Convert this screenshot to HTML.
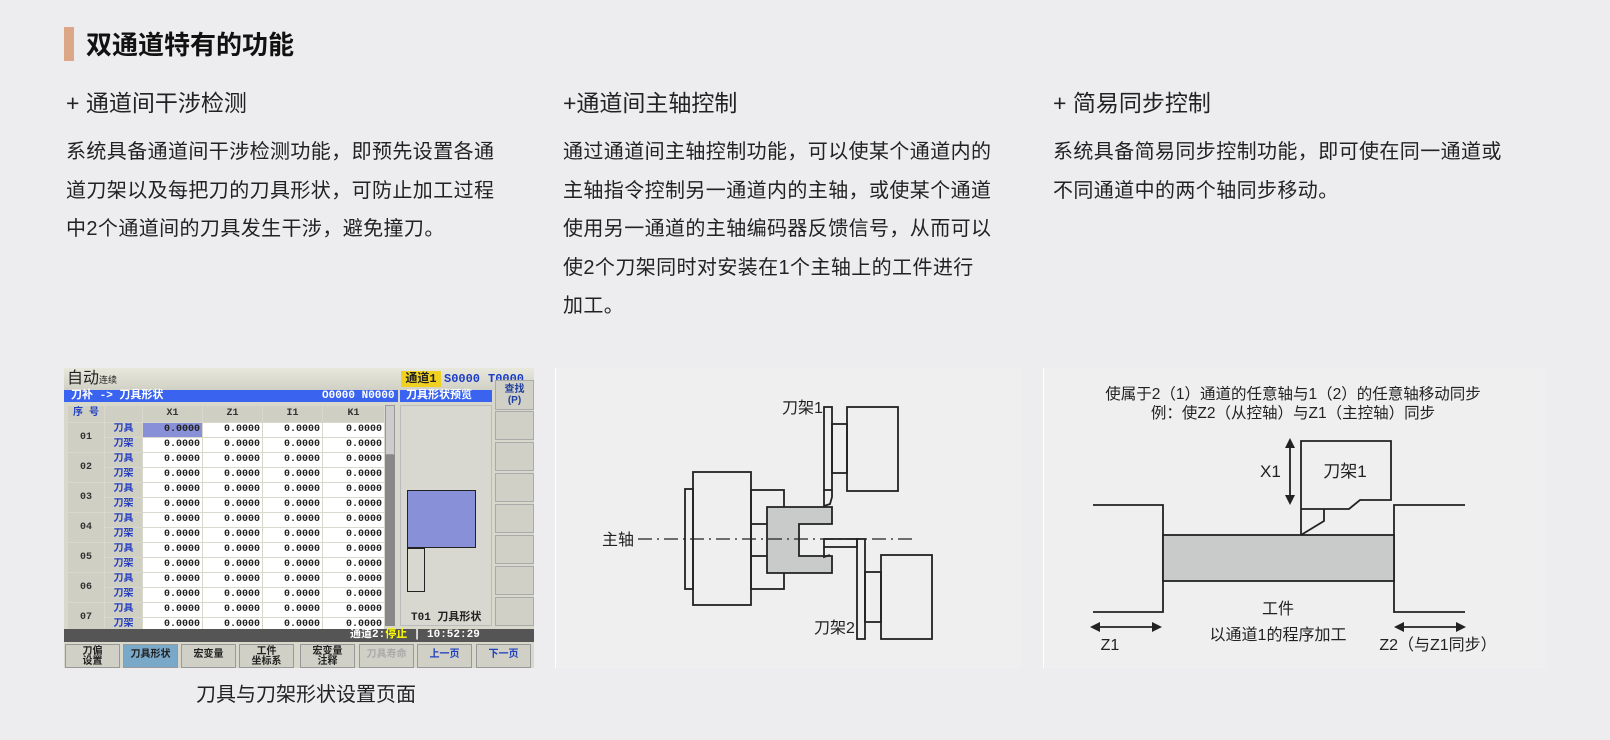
<!DOCTYPE html>
<html><head><meta charset="utf-8">
<style>
*{margin:0;padding:0;box-sizing:border-box}
body{width:1610px;height:740px;background:#ededef;font-family:"Liberation Sans","Noto Sans CJK SC",sans-serif;color:#222;position:relative;overflow:hidden}
.a{position:absolute;white-space:nowrap}
.bar{left:64px;top:27px;width:10px;height:34px;background:#dba787}
.title{left:86px;top:28px;font-size:26px;font-weight:bold;line-height:34px;color:#111}
.sub{top:88px;font-size:23px;line-height:30px;color:#222}
.body{top:133px;font-size:20px;letter-spacing:0.4px;line-height:38.5px;color:#222;white-space:normal}
.scr{left:64px;top:368px;width:470px;height:300px;background:#d8d8cc;font-family:"Liberation Mono","Noto Sans CJK SC",monospace;overflow:hidden}
.scr .a{font-size:11px;font-weight:bold}
table{border-collapse:collapse;table-layout:fixed;position:absolute;left:3px;top:37px;font-family:"Liberation Mono","Noto Sans CJK SC",monospace;font-size:10px;font-weight:bold}
tr{height:15px}
td{height:15px;line-height:12px;padding:0 2px;border:1px solid #d8d8cc;overflow:hidden}
td.v{background:#fff;text-align:right;width:60px;color:#222}
td.l{background:#cfcfc4;color:#2840c0;text-align:center;width:38px}
td.n{background:#cfcfc4;text-align:center;width:37px;color:#333}
th{height:16px;line-height:14px;background:#cfcfc4;font-weight:bold;color:#333;border:1px solid #d8d8cc}
.btn{position:absolute;top:276px;height:24px;width:55px;background:#d0d0c6;border:1px solid #999;font-size:10px;font-weight:bold;text-align:center;line-height:10px;padding-top:2px;font-family:"Liberation Sans","Noto Sans CJK SC",sans-serif}
.btn.s{line-height:20px;padding-top:0}
.rb{position:absolute;left:431px;width:39px;height:29px;background:#d0d0c6;border:1px solid #aaa}
.panel{position:absolute;top:368px;height:300px;background:#efeff0;border-left:1px solid #fff}
</style></head><body>
<div class="a bar"></div>
<div class="a title">双通道特有的功能</div>
<div class="a sub" style="left:66px">+ 通道间干涉检测</div>
<div class="a sub" style="left:563px">+通道间主轴控制</div>
<div class="a sub" style="left:1053px">+ 简易同步控制</div>
<div class="a body" style="left:66px;width:440px">系统具备通道间干涉检测功能，即预先设置各通道刀架以及每把刀的刀具形状，可防止加工过程中2个通道间的刀具发生干涉，避免撞刀。</div>
<div class="a body" style="left:563px;width:430px">通过通道间主轴控制功能，可以使某个通道内的主轴指令控制另一通道内的主轴，或使某个通道使用另一通道的主轴编码器反馈信号，从而可以使2个刀架同时对安装在1个主轴上的工件进行<br>加工。</div>
<div class="a body" style="left:1053px;width:455px">系统具备简易同步控制功能，即可使在同一通道或不同通道中的两个轴同步移动。</div>

<div class="a scr">
 <div class="a" style="left:0;top:0;width:470px;height:22px;background:linear-gradient(#e8e8dc,#d0d0c4)"></div>
 <div class="a" style="left:3px;top:1px;font-size:16px;font-weight:normal;line-height:20px">自动<span style="font-size:9px">连续</span></div>
 <div class="a" style="left:337px;top:3px;width:40px;height:16px;background:#f0d020;font-size:12px;line-height:16px;text-align:center">通道1</div>
 <div class="a" style="left:380px;top:3px;font-size:12px;line-height:16px;color:#1a3cc8">S0000</div>
 <div class="a" style="left:424px;top:3px;font-size:12px;line-height:16px;color:#1a3cc8">T0000</div>
 <div class="a" style="left:0;top:22px;width:334px;height:12px;background:#3a64f0;color:#fff;font-size:11px;line-height:12px;padding-left:7px">刀补 -&gt; 刀具形状<span style="position:absolute;left:258px">O0000 N0000</span></div>
 <div class="a" style="left:336px;top:22px;width:92px;height:12px;background:#3a64f0;color:#fff;font-size:11px;line-height:12px;padding-left:6px">刀具形状预览</div>
 <div class="rb" style="top:12px;height:30px;font-size:10px;line-height:11px;padding-top:3px;text-align:center;color:#2040a0;font-weight:bold;font-family:'Liberation Sans','Noto Sans CJK SC',sans-serif">查找<br>(P)</div>
 <div class="rb" style="top:43px"></div><div class="rb" style="top:74px"></div><div class="rb" style="top:105px"></div><div class="rb" style="top:136px"></div><div class="rb" style="top:167px"></div><div class="rb" style="top:198px"></div><div class="rb" style="top:229px"></div>
 <table>
 <colgroup><col style="width:37px"><col style="width:38px"><col style="width:60px"><col style="width:60px"><col style="width:60px"><col style="width:62px"></colgroup>
 <tr style="height:17px"><th style="color:#2040c0">序 号</th><th></th><th>X1</th><th>Z1</th><th>I1</th><th>K1</th></tr>
 <tr><td class="n" rowspan="2">01</td><td class="l">刀具</td><td class="v" style="background:#8890d8">0.0000</td><td class="v">0.0000</td><td class="v">0.0000</td><td class="v">0.0000</td></tr>
 <tr><td class="l">刀架</td><td class="v">0.0000</td><td class="v">0.0000</td><td class="v">0.0000</td><td class="v">0.0000</td></tr>
 <tr><td class="n" rowspan="2">02</td><td class="l">刀具</td><td class="v">0.0000</td><td class="v">0.0000</td><td class="v">0.0000</td><td class="v">0.0000</td></tr>
 <tr><td class="l">刀架</td><td class="v">0.0000</td><td class="v">0.0000</td><td class="v">0.0000</td><td class="v">0.0000</td></tr>
 <tr><td class="n" rowspan="2">03</td><td class="l">刀具</td><td class="v">0.0000</td><td class="v">0.0000</td><td class="v">0.0000</td><td class="v">0.0000</td></tr>
 <tr><td class="l">刀架</td><td class="v">0.0000</td><td class="v">0.0000</td><td class="v">0.0000</td><td class="v">0.0000</td></tr>
 <tr><td class="n" rowspan="2">04</td><td class="l">刀具</td><td class="v">0.0000</td><td class="v">0.0000</td><td class="v">0.0000</td><td class="v">0.0000</td></tr>
 <tr><td class="l">刀架</td><td class="v">0.0000</td><td class="v">0.0000</td><td class="v">0.0000</td><td class="v">0.0000</td></tr>
 <tr><td class="n" rowspan="2">05</td><td class="l">刀具</td><td class="v">0.0000</td><td class="v">0.0000</td><td class="v">0.0000</td><td class="v">0.0000</td></tr>
 <tr><td class="l">刀架</td><td class="v">0.0000</td><td class="v">0.0000</td><td class="v">0.0000</td><td class="v">0.0000</td></tr>
 <tr><td class="n" rowspan="2">06</td><td class="l">刀具</td><td class="v">0.0000</td><td class="v">0.0000</td><td class="v">0.0000</td><td class="v">0.0000</td></tr>
 <tr><td class="l">刀架</td><td class="v">0.0000</td><td class="v">0.0000</td><td class="v">0.0000</td><td class="v">0.0000</td></tr>
 <tr><td class="n" rowspan="2">07</td><td class="l">刀具</td><td class="v">0.0000</td><td class="v">0.0000</td><td class="v">0.0000</td><td class="v">0.0000</td></tr>
 <tr><td class="l">刀架</td><td class="v">0.0000</td><td class="v">0.0000</td><td class="v">0.0000</td><td class="v">0.0000</td></tr>
 </table>
 <div class="a" style="left:321px;top:37px;width:10px;height:221px;background:#888"></div>
 <div class="a" style="left:321px;top:37px;width:10px;height:50px;background:#ccc;border:1px solid #999"></div>
 <div class="a" style="left:336px;top:37px;width:92px;height:221px;background:#d8d8d0;border:1px solid #bbb"></div>
 <div class="a" style="left:343px;top:122px;width:69px;height:58px;background:#8890d8;border:1px solid #222"></div>
 <div class="a" style="left:343px;top:180px;width:18px;height:44px;border:1px solid #222"></div>
 <div class="a" style="left:347px;top:240px;font-size:11px">T01 刀具形状</div>
 <div class="a" style="left:0;top:261px;width:470px;height:13px;background:#555"></div>
 <div class="a" style="left:286px;top:261px;font-size:11px;line-height:13px;color:#fff">通道2:<span style="color:#ff0">停止</span> | 10:52:29</div>
 <div class="btn" style="left:1px">刀偏<br>设置</div>
 <div class="btn s" style="left:59px;background:#7aa8c8">刀具形状</div>
 <div class="btn s" style="left:117px">宏变量</div>
 <div class="btn" style="left:175px">工件<br>坐标系</div>
 <div class="btn" style="left:236px">宏变量<br>注释</div>
 <div class="btn s" style="left:295px;color:#aaa">刀具寿命</div>
 <div class="btn s" style="left:353px;color:#2040c0">上一页</div>
 <div class="btn s" style="left:412px;color:#2040c0">下一页</div>
</div>
<div class="a" style="left:196px;top:682px;font-size:20px;line-height:26px">刀具与刀架形状设置页面</div>

<div class="panel" style="left:555px;width:467px"></div>
<div class="panel" style="left:1043px;width:503px"></div>

<svg class="a" style="left:0;top:0" width="1610" height="740" font-family="Liberation Sans,Noto Sans CJK SC,sans-serif">
<g fill="none" stroke="#222" stroke-width="1.8">
 <rect x="685" y="489" width="8" height="100"/>
 <rect x="693" y="472" width="58" height="133"/>
 <rect x="751" y="490" width="33" height="99"/>
 <line x1="751" y1="524" x2="767" y2="524"/><line x1="751" y1="556" x2="767" y2="556"/>
 <path d="M767 507H832V524H799V556H832V573H767Z" fill="#c9caca"/>
 <line x1="638" y1="539" x2="915" y2="539" stroke-dasharray="14,5,2,5" stroke-width="1.2"/>
 <rect x="824" y="407" width="8" height="83"/>
 <path d="M824 490V506L830 504L832 497V490"/>
 <rect x="832" y="424" width="15" height="49"/>
 <rect x="847" y="407" width="51" height="84"/>
 <rect x="824" y="539" width="33" height="8"/>
 <path d="M824 547V557L830 555"/>
 <rect x="857" y="539" width="8" height="100"/>
 <rect x="865" y="572" width="16" height="50"/>
 <rect x="881" y="555" width="51" height="84"/>
 <path d="M1093 505H1163V612H1093M1465 505H1394V612H1465"/>
 <rect x="1163" y="535" width="231" height="46" fill="#c9caca"/>
 <path d="M1301 535V441H1391V500H1360L1349 509H1301M1324 509V521L1301 535"/>
 <line x1="1290" y1="444" x2="1290" y2="499"/>
 <line x1="1096" y1="627" x2="1159" y2="627"/>
 <line x1="1398" y1="627" x2="1461" y2="627"/>
</g>
<g fill="#222">
 <path d="M1290 438l-5 10h10zM1290 505l-5-10h10z"/>
 <path d="M1090 627l10-5v10zM1162 627l-10-5v10zM1394 627l10-5v10zM1466 627l-10-5v10z"/>
</g>
<g font-size="16" fill="#222">
 <text x="602" y="545">主轴</text>
 <text x="782" y="413">刀架1</text>
 <text x="814" y="633">刀架2</text>
 <text x="1293" y="399" text-anchor="middle" font-size="15.5">使属于2（1）通道的任意轴与1（2）的任意轴移动同步</text>
 <text x="1293" y="418" text-anchor="middle" font-size="15.5">例：使Z2（从控轴）与Z1（主控轴）同步</text>
 <text x="1260" y="477" font-size="17">X1</text>
 <text x="1345" y="477" text-anchor="middle" font-size="17">刀架1</text>
 <text x="1278" y="614" text-anchor="middle">工件</text>
 <text x="1278" y="640" text-anchor="middle">以通道1的程序加工</text>
 <text x="1110" y="650" text-anchor="middle">Z1</text>
 <text x="1438" y="650" text-anchor="middle">Z2（与Z1同步）</text>
</g>
</svg>
</body></html>
